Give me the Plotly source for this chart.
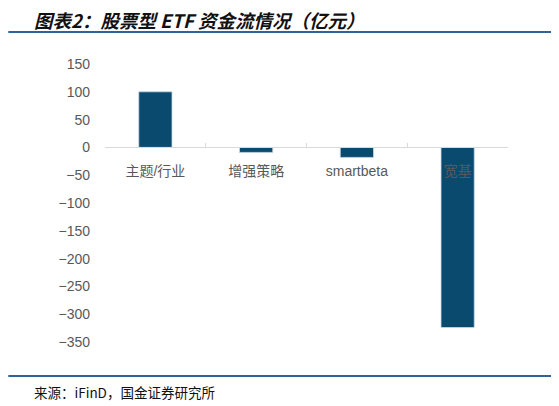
import plotly.graph_objects as go

categories = ["主题/行业", "增强策略", "smartbeta", "宽基"]
flows = [100, -9, -18, -324]
y_ticks = [150, 100, 50, 0, -50, -100, -150, -200, -250, -300, -350]

bar_color = "#0b4a6f"
rule_color = "#2f6496"
label_gray = "#595959"

fig = go.Figure()
fig.add_trace(go.Bar(
    x=categories,
    y=flows,
    marker=dict(color=bar_color, line=dict(color="#c9d9e6", width=0.8)),
    width=0.33,
))

# the page body adds an 8px offset, so the figure is a bit smaller
fig.update_layout(
    width=551, height=398,
    margin=dict(l=97, r=51, t=56, b=64),
    paper_bgcolor="white", plot_bgcolor="white",
    showlegend=False,
    font=dict(family="Liberation Sans, Noto Sans CJK SC", color=label_gray, size=14),
    xaxis=dict(
        anchor="free", position=0.7,
        showline=True, linecolor="#d9d9d9", linewidth=1,
        ticks="inside", ticklen=4, tickcolor="#d9d9d9", tickson="boundaries",
        showgrid=False, zeroline=False,
        tickfont=dict(size=14, color=label_gray),
        ticklabelstandoff=11,
    ),
    yaxis=dict(
        range=[-350, 150], tickvals=y_ticks,
        showgrid=False, zeroline=False, showline=False,
        tickfont=dict(size=14, color=label_gray),
        ticklabelstandoff=14,
    ),
)

# header / footer rules
for yy in [1.115, -0.1223]:
    fig.add_shape(type="line", xref="paper", yref="paper",
                  x0=-0.24, x1=1.112, y0=yy, y1=yy,
                  line=dict(color=rule_color, width=2))

fig.add_annotation(
    xref="paper", yref="paper", x=-0.181, y=1.158,
    xanchor="left", yanchor="middle", showarrow=False,
    text="<b><i>图表2：股票型 ETF 资金流情况（亿元）</i></b>",
    font=dict(family="Noto Sans CJK SC", size=18.5, color="#111111"),
)
fig.add_annotation(
    xref="paper", yref="paper", x=-0.181, y=-0.18,
    xanchor="left", yanchor="middle", showarrow=False,
    text="来源：iFinD，国金证券研究所",
    font=dict(family="Noto Sans CJK SC", size=13.5, color="#111111"),
)

fig.write_html("out.html")
